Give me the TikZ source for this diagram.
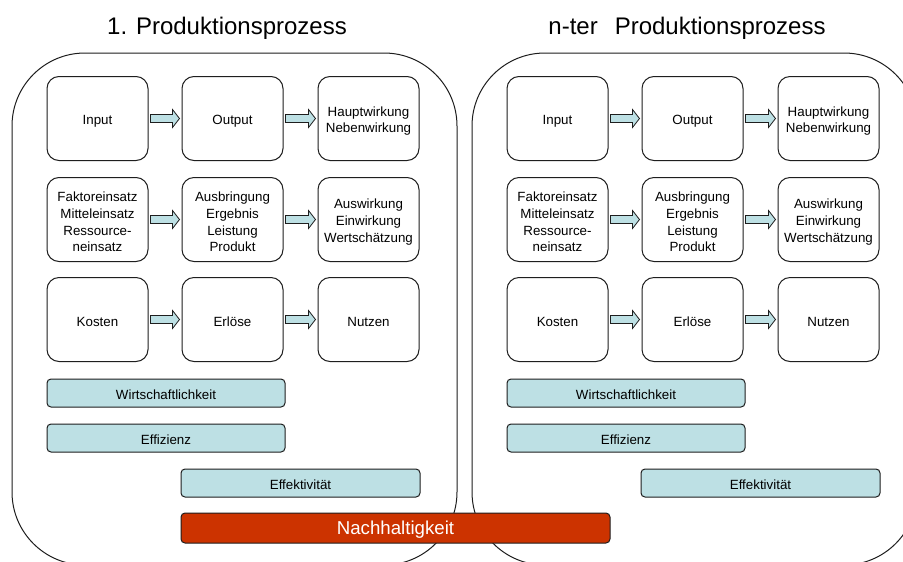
\documentclass[tikz,border=0pt]{standalone}
\usepackage{fontspec}
\setmainfont{Liberation Sans}
\usetikzlibrary{calc}
\definecolor{paleblue}{RGB}{189,224,228}
\definecolor{brickred}{RGB}{204,51,0}
\definecolor{inkline}{RGB}{30,30,30}

% broad block arrow from the east side of #1 to the west side of #2
\newcommand\blockarrow[2]{%
  \path[flowarrow] let \p1=($(#1.east)+(1.5pt,0pt)$), \p2=($(#2.west)-(1.5pt,0pt)$) in
    (\x1,\y1+3pt) -- (\x2-5.25pt,\y1+3pt) -- (\x2-5.25pt,\y1+6.75pt) -- (\x2,\y1)
    -- (\x2-5.25pt,\y1-6.75pt) -- (\x2-5.25pt,\y1-3pt) -- (\x1,\y1-3pt) -- cycle;}

\begin{document}
\begin{tikzpicture}[x=0.75pt,y=-0.75pt,
  procbox/.style={draw=inkline,line width=0.75pt,rounded corners=54.75pt,
    minimum width=333.75pt,minimum height=384pt,inner sep=0pt},
  steptext/.style={align=center,inner sep=0pt,yshift=-2pt,
    font=\fontsize{10}{12.5}\selectfont},
  stepbox/.style={draw=inkline,line width=0.75pt,rounded corners=9pt,
    minimum width=75.75pt,minimum height=63pt,inner sep=0pt,
    label={[steptext]center:{#1}}},
  bartext/.style={inner sep=0pt,yshift=-1pt,font=\fontsize{10}{12}\selectfont},
  measbar/.style={draw=inkline,line width=0.75pt,rounded corners=3pt,fill=paleblue,
    minimum height=21pt,inner sep=0pt,label={[bartext]center:{#1}}},
  flowarrow/.style={draw=inkline,line width=0.6pt,fill=paleblue},
  headline/.style={font=\fontsize{18}{21.6}\selectfont}
]
\clip (0,0) rectangle (903,561);
\fill[white] (0,0) rectangle (903,561);

\node[headline] (t1) at (227,28.5) {1. Produktionsprozess};
\node[headline] (t2) at (687,28.5) {n-ter\hspace{12.75pt}Produktionsprozess};

\foreach \s/\side in {0/L,460/R}{
  \node[procbox] (\side-frame) at (234.5+\s,309) {};

  \node[stepbox={Input}] (\side-a1) at (97.5+\s,118.5) {};
  \node[stepbox={Output}] (\side-b1) at (232.5+\s,118.5) {};
  \node[stepbox={Hauptwirkung\\Nebenwirkung}] (\side-c1) at (368.5+\s,118.5) {};

  \node[stepbox={Faktoreinsatz\\Mitteleinsatz\\Ressource-\\neinsatz}] (\side-a2) at (97.5+\s,219.5) {};
  \node[stepbox={Ausbringung\\Ergebnis\\Leistung\\Produkt}] (\side-b2) at (232.5+\s,219.5) {};
  \node[stepbox={Auswirkung\\Einwirkung\\Wertschätzung}] (\side-c2) at (368.5+\s,219.5) {};

  \node[stepbox={Kosten}] (\side-a3) at (97.5+\s,319.5) {};
  \node[stepbox={Erlöse}] (\side-b3) at (232.5+\s,319.5) {};
  \node[stepbox={Nutzen}] (\side-c3) at (368.5+\s,319.5) {};

  \blockarrow{\side-a1}{\side-b1}
  \blockarrow{\side-b1}{\side-c1}
  \blockarrow{\side-a2}{\side-b2}
  \blockarrow{\side-b2}{\side-c2}
  \blockarrow{\side-a3}{\side-b3}
  \blockarrow{\side-b3}{\side-c3}

  \node[measbar={Wirtschaftlichkeit},minimum width=178.5pt] (\side-wirt) at (166+\s,393) {};
  \node[measbar={Effizienz},minimum width=178.5pt] (\side-effz) at (166+\s,438) {};
  \node[measbar={Effektivität},minimum width=179.25pt] (\side-efkt) at (300.5+\s,483) {};
}

\node[draw=inkline,line width=0.75pt,rounded corners=3pt,fill=brickred,
  minimum width=321.75pt,minimum height=22.5pt,inner sep=0pt,
  label={[inner sep=0pt,yshift=-1.5pt,text=white,font=\fontsize{14}{16.8}\selectfont]center:Nachhaltigkeit}]
  (nachh) at (395.5,528) {};
\end{tikzpicture}
\end{document}
